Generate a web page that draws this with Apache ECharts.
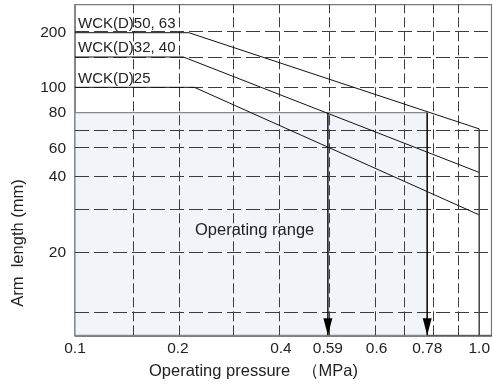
<!DOCTYPE html>
<html><head><meta charset="utf-8">
<script src="https://cdn.jsdelivr.net/npm/echarts@6/dist/echarts.min.js"></script>
<style>html,body{margin:0;padding:0;background:#fff}#c{width:493px;height:385px}</style>
</head><body><div id="c"></div>
<script>
// Schematic (non-uniform) axis scales: value -> fraction of axis length
const xScaleValues = [0.1, 0.15, 0.2, 0.3, 0.4, 0.59, 0.6, 0.7, 0.78, 0.8, 0.9, 1.0, 1.06];
const xScaleFrac   = [0, 0.1404, 0.2471, 0.3787, 0.4945, 0.6072, 0.7242, 0.7895, 0.8457, 0.8557, 0.9211, 0.9706, 1];
const yScaleValues = [5, 10, 20, 30, 40, 60, 70, 80, 100, 150, 200, 250];
const yScaleFrac   = [0, 0.0665, 0.2498, 0.3769, 0.4797, 0.5656, 0.6189, 0.6733, 0.7501, 0.8418, 0.9153, 1];

// tick labels
const xTickLabels = ['0.1', '0.2', '0.4', '0.59', '0.6', '0.78', '1.0'];
const yTickLabels = ['20', '40', '60', '80', '100', '200'];
// grid lines
const xGridValues = [0.15, 0.2, 0.3, 0.4, 0.59, 0.6, 0.7, 0.8, 0.9];
const yGridValues = [10, 20, 30, 40, 60, 70, 100, 150, 200];

// series: [pressure MPa, arm length mm]
const seriesNames = ['WCK(D)50, 63', 'WCK(D)32, 40', 'WCK(D)25'];
const line5063 = [[0.1, 200], [0.22, 200], [1.0, 71]];
const line3240 = [[0.1, 150], [0.21, 150], [1.0, 43]];
const line25   = [[0.1, 100], [0.23, 100], [1.0, 29]];

// operating range
const rangePressure = [0.1, 0.78];
const rangeArm = [5, 80];
const arrowPressures = [0.59, 0.78];
const limitLine = [[1.0, 71], [1.0, 5]];

function interp(v, vals, fr) {
  for (let i = 0; i < vals.length - 1; i++) {
    if (v <= vals[i + 1] || i === vals.length - 2) {
      const t = (v - vals[i]) / (vals[i + 1] - vals[i]);
      return fr[i] + t * (fr[i + 1] - fr[i]);
    }
  }
}
const sx = v => interp(v, xScaleValues, xScaleFrac);
const sy = v => interp(v, yScaleValues, yScaleFrac);
const pt = p => [sx(p[0]), sy(p[1])];

const FONT = '"Liberation Sans", Arial, sans-serif';
const xLabelPos = xTickLabels.map(l => sx(parseFloat(l)));
const yLabelPos = yTickLabels.map(l => sy(parseFloat(l)));
function nearestLabel(v, pos, labels) {
  let best = 0;
  for (let i = 1; i < pos.length; i++) if (Math.abs(pos[i] - v) < Math.abs(pos[best] - v)) best = i;
  return labels[best];
}

const gridColor = '#3c3c3c';
const lineSeries = [line5063, line3240, line25].map((d, i) => ({
  name: seriesNames[i], type: 'line', z: 5, symbol: 'none', silent: true,
  data: d.map(pt), lineStyle: { color: '#111', width: 1 }
}));

const option = {
  animation: false,
  grid: { left: 75, right: -1, top: 4.7, bottom: 49.7, show: true, borderColor: '#7a7a7a', borderWidth: 1.2 },
  xAxis: {
    type: 'value', min: 0, max: 1,
    axisLine: { show: true, lineStyle: { color: '#555', width: 1.5 } },
    axisTick: { show: false }, splitLine: { show: false },
    axisLabel: { customValues: xLabelPos, color: '#222', fontSize: 15.5, fontFamily: FONT, margin: 5,
      formatter: v => nearestLabel(v, xLabelPos, xTickLabels) }
  },
  yAxis: {
    type: 'value', min: 0, max: 1,
    axisLine: { show: true, lineStyle: { color: '#7a7a7a', width: 1.5 } },
    axisTick: { show: false }, splitLine: { show: false },
    axisLabel: { customValues: yLabelPos, color: '#222', fontSize: 15.5, fontFamily: FONT, margin: 9,
      formatter: v => nearestLabel(v, yLabelPos, yTickLabels) }
  },
  series: [
    { type: 'line', z: 1, data: [], silent: true,
      markArea: { silent: true,
        itemStyle: { color: '#f1f5f9', borderColor: '#8a8a8a', borderWidth: 1.2 },
        data: [[{ coord: [sx(rangePressure[0]), sy(rangeArm[1])] }, { coord: [sx(rangePressure[1]), sy(rangeArm[0])] }]] } },
    { type: 'line', z: 2, data: [], silent: true,
      markLine: { silent: true, symbol: 'none', label: { show: false },
        data: xGridValues.map(v => ({ xAxis: sx(v), lineStyle: { type: [10, 4], color: gridColor, width: 1 } }))
          .concat(yGridValues.map(v => ({ yAxis: sy(v), lineStyle: { type: [14, 5], color: gridColor, width: 1 } }))) } },
    ...lineSeries,
    ...arrowPressures.map(p => ({ type: 'line', z: 6, symbol: 'none', silent: true,
      data: [pt([p, rangeArm[1]]), pt([p, rangeArm[0]])], lineStyle: { color: '#111', width: 1.5 } })),
    { type: 'scatter', z: 7, silent: true, symbol: 'triangle', symbolRotate: 180, symbolSize: [9, 17],
      symbolOffset: [0, -8.5], itemStyle: { color: '#000', opacity: 1 },
      data: arrowPressures.map(p => pt([p, rangeArm[0]])) },
    { type: 'line', z: 6, symbol: 'none', silent: true, data: limitLine.map(pt), lineStyle: { color: '#444', width: 1.5 } }
  ],
  graphic: [
    { type: 'text', x: 78, y: 23.5, z: 10, style: { text: seriesNames[0], font: '15px ' + FONT, fill: '#222', verticalAlign: 'middle' } },
    { type: 'text', x: 78, y: 48.2, z: 10, style: { text: seriesNames[1], font: '15px ' + FONT, fill: '#222', verticalAlign: 'middle' } },
    { type: 'text', x: 78, y: 79, z: 10, style: { text: seriesNames[2], font: '15px ' + FONT, fill: '#222', verticalAlign: 'middle' } },
    { type: 'text', x: 195, y: 230.7, z: 10, style: { text: 'Operating range', font: '16.5px ' + FONT, fill: '#222', verticalAlign: 'middle' } },
    { type: 'text', x: 149, y: 371.7, z: 10, style: { text: 'Operating pressure', font: '16.5px ' + FONT, fill: '#222', verticalAlign: 'middle' } },
    { type: 'text', x: 358, y: 371.7, z: 10, style: { text: '（MPa)', font: '16.5px ' + FONT, fill: '#222', align: 'right', verticalAlign: 'middle' } },
    { type: 'text', x: 18, y: 243, rotation: Math.PI / 2, z: 10, style: { text: 'Arm  length (mm)', font: '16.5px ' + FONT, fill: '#222', align: 'center', verticalAlign: 'middle' } }
  ]
};
echarts.init(document.getElementById('c'), null, { renderer: 'canvas' }).setOption(option);
</script></body></html>
